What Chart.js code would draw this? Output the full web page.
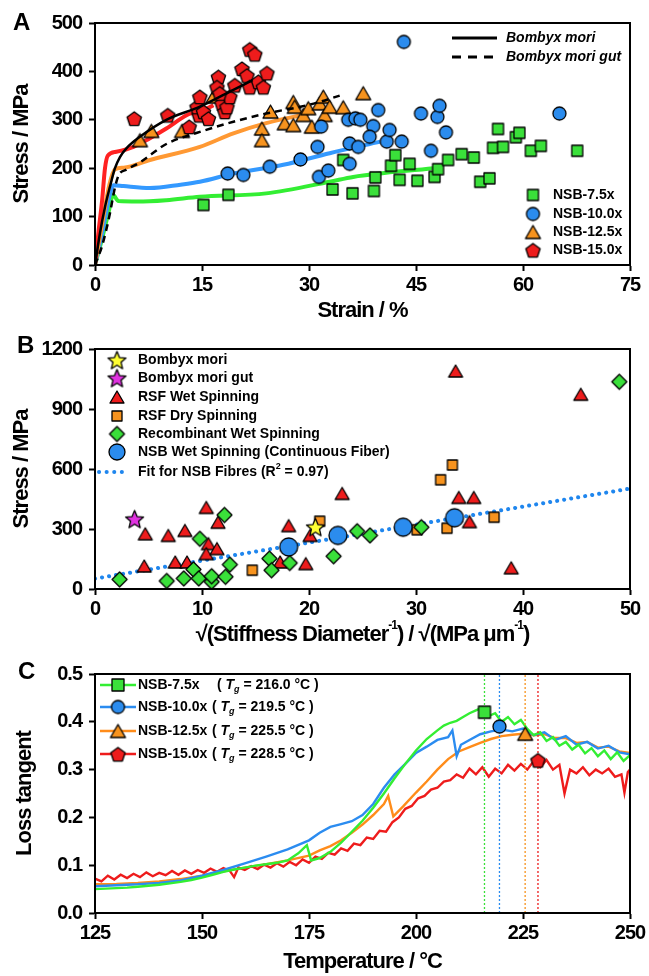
<!DOCTYPE html>
<html lang="en">
<head>
<meta charset="UTF-8" />
<title>NSB fibre mechanics</title>
<script src="https://cdn.jsdelivr.net/npm/chart.js"></script>
<style>
  body { margin: 0; background: #fff; width: 649px; height: 976px; position: relative; overflow: hidden; }
  .panel { position: absolute; left: 0; width: 649px; }
</style>
</head>
<body>
<div class="panel" style="top:0;height:330px"><canvas id="chartA"></canvas></div>
<div class="panel" style="top:330px;height:325px"><canvas id="chartB"></canvas></div>
<div class="panel" style="top:655px;height:321px"><canvas id="chartC"></canvas></div>
<script>
// ---- panel A : stress-strain ----
const bmStrain = [0, 0.7, 1.4, 2.1, 2.8, 3.5, 4.4, 6.3, 10, 14.7, 19.4, 22.1];
const bmStress = [0, 66, 120, 162, 200, 223, 241, 265, 300, 327, 362, 382];
const gutStrain = [0, 1, 2, 2.8, 3.3, 4.4, 6.3, 10, 14.7, 19.4, 24, 28.8, 31.5, 34.3];
const gutStress = [0, 40, 100, 160, 185, 197, 212, 250, 275, 296, 313, 327, 337, 350];
const curve15Strain = [0, 0.5, 1, 1.4, 1.8, 3, 5.4, 7.7, 10, 12.9, 15.8, 16.6];
const curve15Stress = [0, 70, 134, 200, 226, 234, 244, 262, 282, 310, 324, 330];
const curve125Strain = [0, 1, 2, 2.8, 4, 7.7, 14.7, 19.4, 24, 27.8, 30];
const curve125Stress = [0, 85, 165, 198, 201, 217, 244, 272, 293, 306, 312];
const curve10Strain = [0, 1, 2, 2.6, 4, 7.7, 12, 14.7, 19.4, 26.4, 32.9, 40];
const curve10Stress = [0, 65, 140, 165, 163, 159, 166, 172, 189, 207, 231, 255];
const curve75Strain = [0, 1, 2, 2.5, 3.3, 6, 10, 14.7, 24, 32.9, 36.2, 47.4];
const curve75Stress = [0, 55, 115, 145, 132, 131, 134, 141, 148, 172, 182, 200];

const nsb15Strain = [5.5, 10.2, 13.2, 14.6, 14.3, 14.7, 15.2, 15.9, 17.3, 17.1, 17.8, 18.2, 18.5, 18.9, 19.6, 20.6, 21.3, 21.7, 22.4, 21.7, 22.9, 23.6, 24.1, 17.5];
const nsb15Stress = [303, 310, 286, 310, 327, 348, 317, 303, 389, 368, 334, 317, 327, 348, 372, 406, 392, 446, 436, 368, 379, 368, 397, 355];
const nsb125Strain = [6.3, 7.9, 12.2, 16.6, 23.4, 23.4, 24.6, 26.6, 27.8, 27.8, 28.0, 29.2, 29.9, 30.4, 31.5, 32.0, 32.2, 32.9, 34.8, 37.6];
const nsb125Stress = [258, 277, 277, 348, 282, 258, 317, 293, 289, 337, 327, 310, 324, 286, 334, 348, 310, 327, 326, 355];
const nsb10Strain = [18.6, 20.8, 24.5, 28.8, 31.2, 31.4, 31.7, 32.7, 35.5, 36.5, 37.2, 35.7, 36.9, 35.7, 39.0, 39.7, 38.5, 40.9, 41.3, 43.0, 43.3, 45.7, 47.1, 48.0, 48.3, 49.2, 65.1];
const nsb10Stress = [189, 186, 203, 218, 244, 182, 286, 195, 300, 303, 300, 251, 244, 209, 287, 320, 265, 255, 279, 255, 461, 313, 236, 306, 329, 274, 313];
const nsb75Strain = [15.2, 18.7, 34.8, 33.3, 36.1, 39.1, 39.3, 41.5, 42.1, 42.7, 44.1, 45.2, 47.6, 48.1, 49.5, 51.4, 53.1, 54.0, 55.3, 55.8, 56.5, 57.2, 59.0, 59.5, 61.1, 62.5, 67.6];
const nsb75Stress = [124, 145, 217, 156, 148, 153, 181, 205, 227, 176, 209, 174, 182, 198, 217, 229, 222, 172, 179, 242, 281, 244, 264, 273, 236, 246, 236];

const lineNamesA = ['Bombyx mori', 'Bombyx mori gut'];
const namesA = ['NSB-7.5x', 'NSB-10.0x', 'NSB-12.5x', 'NSB-15.0x'];

// ---- panel B : stress vs sqrt(stiffness / diameter) ----
const bombyxX = [20.6], bombyxY = [310];
const gutX = [3.7], gutY = [350];
const rsfWetX = [4.7, 4.6, 6.85, 7.5, 8.4, 8.6, 10.4, 10.6, 10.4, 11.5, 11.4, 17.3, 18.1, 19.7, 20.1, 23.1, 33.7, 34.0, 35.4, 35.0, 38.9, 45.4];
const rsfWetY = [276, 115, 268, 135, 293, 135, 408, 227, 177, 334, 202, 135, 317, 127, 268, 478, 1090, 458, 458, 337, 106, 974];
const rsfDryX = [14.7, 21.0, 33.4, 32.3, 30.1, 32.9, 37.3];
const rsfDryY = [94, 339, 620, 546, 296, 304, 359];
const recombX = [2.3, 6.7, 8.3, 9.2, 9.7, 9.8, 10.9, 10.9, 12.2, 12.6, 12.1, 16.3, 16.5, 18.2, 22.3, 24.5, 25.7, 30.5, 49.0];
const recombY = [48, 40, 53, 98, 53, 251, 36, 64, 61, 122, 370, 152, 94, 130, 164, 289, 268, 309, 1036];
const nsbWetX = [18.1, 22.7, 28.8, 33.6];
const nsbWetY = [210, 268, 309, 356];
const fitX = [0, 50];
const fitY = [52, 502];
const namesB = ['Bombyx mori', 'Bombyx mori gut', 'RSF Wet Spinning', 'RSF Dry Spinning',
  'Recombinant Wet Spinning', 'NSB Wet Spinning (Continuous Fiber)'];

// ---- panel C : loss tangent ----
const greenT = [125, 127.5, 130, 132.5, 135, 137.5, 140, 142.5, 145, 147.5,
  150, 152.5, 155, 157.5, 160, 162.5, 165, 167.5, 170, 172.5,
  174.5, 175.5, 177.5, 180, 182.5, 185, 187.5, 190, 192.5, 195,
  197.5, 200, 202.5, 205, 206.5, 208, 209.5, 211, 212.5, 214,
  215.5, 217, 218.5, 220, 221.5, 223, 224.5, 226, 227.5, 229,
  230.5, 232, 233.5, 235, 236.5, 238, 239.5, 241, 242.5, 244,
  245.5, 247, 248.5, 250];
const greenLoss = [0.050, 0.051, 0.052, 0.053, 0.055, 0.057, 0.059, 0.062, 0.065, 0.069,
  0.074, 0.080, 0.086, 0.091, 0.095, 0.099, 0.102, 0.105, 0.110, 0.125,
  0.142, 0.110, 0.115, 0.128, 0.147, 0.170, 0.193, 0.220, 0.250, 0.282,
  0.312, 0.340, 0.364, 0.382, 0.392, 0.398, 0.402, 0.410, 0.418, 0.424,
  0.430, 0.412, 0.418, 0.400, 0.410, 0.395, 0.404, 0.385, 0.372, 0.378,
  0.360, 0.368, 0.350, 0.358, 0.342, 0.352, 0.334, 0.345, 0.328, 0.340,
  0.322, 0.336, 0.318, 0.330];
const blueT = [125, 130, 135, 140, 145, 150, 155, 160, 165, 170,
  175, 177.5, 180, 182.5, 185, 187.5, 190, 192.5, 195, 197.5,
  200, 202.5, 205, 207.5, 208.5, 209.5, 210.5, 212.5, 215, 217.5,
  220, 222.5, 225, 227.5, 230, 232.5, 235, 237.5, 240, 242.5,
  245, 247.5, 250];
const blueLoss = [0.056, 0.058, 0.060, 0.063, 0.068, 0.078, 0.090, 0.104, 0.118, 0.133,
  0.152, 0.168, 0.180, 0.186, 0.192, 0.205, 0.228, 0.262, 0.290, 0.312,
  0.335, 0.348, 0.362, 0.368, 0.382, 0.328, 0.352, 0.362, 0.374, 0.380,
  0.384, 0.380, 0.386, 0.372, 0.378, 0.362, 0.370, 0.352, 0.358, 0.344,
  0.350, 0.336, 0.332];
const orangeT = [125, 130, 135, 140, 145, 150, 155, 160, 165, 170,
  175, 177.5, 180, 182.5, 185, 187.5, 190, 192.5, 193.5, 194.7,
  197, 200, 202.5, 205, 207.5, 210, 212.5, 215, 217.5, 220,
  222.5, 225, 227.5, 230, 232.5, 235, 237.5, 240, 242.5, 245,
  247.5, 250];
const orangeLoss = [0.060, 0.061, 0.063, 0.066, 0.071, 0.078, 0.087, 0.095, 0.102, 0.110,
  0.120, 0.131, 0.140, 0.152, 0.168, 0.185, 0.205, 0.228, 0.245, 0.202,
  0.223, 0.252, 0.275, 0.300, 0.322, 0.338, 0.347, 0.356, 0.364, 0.370,
  0.373, 0.375, 0.372, 0.374, 0.366, 0.366, 0.356, 0.358, 0.346, 0.348,
  0.338, 0.335];
const redT = [125, 126.5, 128, 129.5, 131, 132.5, 134, 135.5, 137, 138.5,
  140, 141.5, 143, 144.5, 146, 147.5, 149, 150.5, 152, 153.5,
  155, 156.5, 157.5, 158.5, 160, 161.5, 163, 164.5, 166, 167.5,
  169, 170.5, 172, 173.5, 175, 176.5, 178, 179.5, 181, 182.5,
  184, 185.5, 187, 188.5, 190, 191.5, 193, 194.5, 196, 197.5,
  199, 200.5, 202, 203.5, 205, 206.5, 208, 209.5, 211, 212.5,
  214, 215.5, 217, 218.5, 220, 221.5, 223, 224.5, 226, 227.5,
  229, 230.5, 232, 233.5, 234.7, 236, 237.5, 239, 240.5, 242,
  243.5, 245, 246.5, 248, 248.7, 249.5, 250];
const redLoss = [0.072, 0.066, 0.078, 0.070, 0.080, 0.073, 0.082, 0.075, 0.085, 0.077,
  0.084, 0.079, 0.088, 0.080, 0.089, 0.082, 0.090, 0.084, 0.093, 0.086,
  0.094, 0.088, 0.075, 0.095, 0.090, 0.098, 0.092, 0.101, 0.095, 0.104,
  0.097, 0.107, 0.100, 0.112, 0.105, 0.118, 0.113, 0.126, 0.122, 0.135,
  0.130, 0.145, 0.142, 0.158, 0.155, 0.172, 0.170, 0.190, 0.200, 0.218,
  0.224, 0.240, 0.245, 0.258, 0.262, 0.275, 0.278, 0.290, 0.283, 0.302,
  0.290, 0.305, 0.285, 0.302, 0.292, 0.310, 0.298, 0.312, 0.300, 0.318,
  0.305, 0.320, 0.300, 0.310, 0.250, 0.300, 0.292, 0.305, 0.288, 0.300,
  0.292, 0.302, 0.285, 0.290, 0.252, 0.295, 0.300];
const tgTemps = [216.0, 219.5, 225.5, 228.5];
const tgLoss = [0.42, 0.39, 0.375, 0.32];
const tgText = ['216.0', '219.5', '225.5', '228.5'];

// ---- styling ----
const FONT = "'Liberation Sans', Arial, sans-serif";
const GREEN = '#3ae03a', BLUE = '#2b8cee', ORANGE = '#f7931e', RED = '#ee1c1c';

Chart.defaults.font.family = FONT;
Chart.defaults.color = '#000';

const pts = (xs, ys) => xs.map((x, i) => ({x, y: ys[i]}));

function marker(shape, w, fill, h) {
    h = h || w;
    const c = document.createElement('canvas');
    c.width = Math.ceil(w + 4);
    c.height = Math.ceil(h + 4);
    const g = c.getContext('2d');
    const cx = c.width / 2, cy = c.height / 2, r = w / 2;
    g.beginPath();
    if (shape === 'circle') {
        g.arc(cx, cy, r, 0, Math.PI * 2);
    } else if (shape === 'square') {
        g.rect(cx - r, cy - h / 2, w, h);
    } else if (shape === 'triangle') {
        g.moveTo(cx, cy - h / 2); g.lineTo(cx + r, cy + h / 2); g.lineTo(cx - r, cy + h / 2); g.closePath();
    } else if (shape === 'diamond') {
        g.moveTo(cx, cy - h / 2); g.lineTo(cx + r, cy); g.lineTo(cx, cy + h / 2); g.lineTo(cx - r, cy); g.closePath();
    } else {
        const n = shape === 'star' ? 10 : 5;
        for (let i = 0; i < n; i++) {
            const ang = -Math.PI / 2 + i * 2 * Math.PI / n;
            const rr = (shape === 'star' && i % 2) ? r * 0.45 : r;
            const px = cx + rr * Math.cos(ang), py = cy + 1 + rr * Math.sin(ang);
            i ? g.lineTo(px, py) : g.moveTo(px, py);
        }
        g.closePath();
    }
    g.fillStyle = fill;
    g.fill();
    g.lineWidth = 1.3;
    g.lineJoin = 'round';
    g.strokeStyle = '#000';
    g.stroke();
    return c;
}

function xAxis(min, max, step, title, boxH, padBottom) {
    return {
        type: 'linear', position: 'bottom', min, max,
        ticks: {stepSize: step, font: {size: 20, weight: 'bold'}, color: '#000', padding: 2,
            maxRotation: 0, autoSkip: false, callback: v => String(v)},
        grid: {drawOnChartArea: false, drawTicks: true, tickLength: 6, tickWidth: 2, tickColor: '#000'},
        border: {display: true, color: '#000', width: 2},
        title: {display: !!title, text: title, color: '#000', font: {size: 22, weight: 'bold'},
            padding: {top: 0, bottom: padBottom}},
        afterFit(s) { s.height = boxH; }
    };
}

function yAxis(min, max, step, title, fmt, padTop) {
    return {
        type: 'linear', position: 'left', min, max,
        ticks: {stepSize: step, font: {size: 20, weight: 'bold'}, color: '#000', padding: 7, callback: fmt},
        grid: {drawOnChartArea: false, drawTicks: true, tickLength: 6, tickWidth: 2, tickColor: '#000'},
        border: {display: true, color: '#000', width: 2},
        title: {display: true, text: title, color: '#000', font: {size: 22, weight: 'bold'},
            padding: {top: padTop, bottom: 0}},
        afterFit(s) { s.width = 95; }
    };
}

function baseOptions(top, scales) {
    return {
        responsive: true, maintainAspectRatio: false, animation: false, devicePixelRatio: 1, events: [],
        layout: {padding: {left: 0, right: 19, top, bottom: 0}},
        scales,
        plugins: {legend: {display: false}, tooltip: {enabled: false}}
    };
}

// the axis lettering of the figure is condensed, tighten it a bit
const tightText = {
    id: 'tightText',
    beforeDraw(chart) { chart.ctx.letterSpacing = '-1px'; }
};

function drawFrame(chart, letter, lx, ly) {
    const {ctx, chartArea: a} = chart;
    ctx.save();
    ctx.strokeStyle = '#000';
    ctx.lineWidth = 2;
    ctx.strokeRect(a.left, a.top, a.right - a.left, a.bottom - a.top);
    ctx.fillStyle = '#000';
    ctx.font = 'bold 24px ' + FONT;
    ctx.textBaseline = 'alphabetic';
    ctx.fillText(letter, lx, ly);
    ctx.restore();
}

// parts: [text, font, dy]
function richText(ctx, x, y, parts, center) {
    let w = 0;
    parts.forEach(p => { ctx.font = p[1]; w += ctx.measureText(p[0]).width; });
    let cx = center ? x - w / 2 : x;
    parts.forEach(p => {
        ctx.font = p[1];
        ctx.fillText(p[0], cx, y + (p[2] || 0));
        cx += ctx.measureText(p[0]).width;
    });
}

function markerLegend(ctx, imgs, names, mx, tx, rows) {
    ctx.font = 'bold 14px ' + FONT;
    ctx.fillStyle = '#000';
    ctx.textBaseline = 'middle';
    imgs.forEach((img, i) => {
        if (img) ctx.drawImage(img, mx - img.width / 2, rows[i] - img.height / 2);
        if (names[i]) ctx.fillText(names[i], tx, rows[i]);
    });
}

// ---- panel A ----
const mA = {
    sq: marker('square', 11, GREEN),
    ci: marker('circle', 13, BLUE),
    tr: marker('triangle', 15, ORANGE, 13),
    pe: marker('pentagon', 15, RED)
};
const lineDs = (data, color, width, order, dash) => ({
    data, showLine: true, borderColor: color, borderWidth: width, pointRadius: 0,
    borderDash: dash || [], cubicInterpolationMode: 'monotone', order, fill: false
});
const scatterDs = (data, img, order) => ({
    data, pointStyle: img, pointRadius: 6, showLine: false, order
});

new Chart(document.getElementById('chartA'), {
    type: 'scatter',
    data: {
        datasets: [
            lineDs(pts(bmStrain, bmStress), '#000', 2.5, 0),
            lineDs(pts(gutStrain, gutStress), '#000', 2.5, 0, [7, 5]),
            scatterDs(pts(nsb15Strain, nsb15Stress), mA.pe, 1),
            scatterDs(pts(nsb10Strain, nsb10Stress), mA.ci, 2),
            scatterDs(pts(nsb125Strain, nsb125Stress), mA.tr, 3),
            scatterDs(pts(nsb75Strain, nsb75Stress), mA.sq, 4),
            lineDs(pts(curve15Strain, curve15Stress), '#ff2222', 4, 5),
            lineDs(pts(curve125Strain, curve125Stress), '#ff9933', 4, 5),
            lineDs(pts(curve10Strain, curve10Stress), '#3399ff', 4, 5),
            lineDs(pts(curve75Strain, curve75Stress), '#33ee33', 4, 5)
        ]
    },
    options: baseOptions(23, {
        x: xAxis(0, 75, 15, 'Strain / %', 65, 6),
        y: yAxis(0, 500, 100, 'Stress / MPa', v => String(v), 9)
    }),
    plugins: [tightText, {
        id: 'decorA',
        afterDraw(chart) {
            const ctx = chart.ctx;
            ctx.save();
            ctx.letterSpacing = '0px';
            drawFrame(chart, 'A', 13, 30);
            ctx.strokeStyle = '#000';
            ctx.lineWidth = 3;
            ctx.beginPath(); ctx.moveTo(452, 38); ctx.lineTo(497, 38); ctx.stroke();
            ctx.setLineDash([9, 7]);
            ctx.beginPath(); ctx.moveTo(452, 57); ctx.lineTo(497, 57); ctx.stroke();
            ctx.setLineDash([]);
            ctx.font = 'italic bold 14px ' + FONT;
            ctx.fillStyle = '#000';
            ctx.textBaseline = 'middle';
            ctx.fillText(lineNamesA[0], 506, 38);
            ctx.fillText(lineNamesA[1], 506, 57);
            markerLegend(ctx, [mA.sq, mA.ci, mA.tr, mA.pe], namesA, 533, 553, [195, 214, 232, 250]);
            ctx.restore();
        }
    }]
});

// ---- panel B ----
const mB = {
    yellow: marker('star', 19, '#ffff33'),
    magenta: marker('star', 19, '#e033e0'),
    tri: marker('triangle', 14, RED, 12),
    sq: marker('square', 10, ORANGE),
    dia: marker('diamond', 15, GREEN),
    ci: marker('circle', 18, BLUE)
};
const mBLegend = [mB.yellow, mB.magenta, mB.tri, mB.sq, mB.dia, marker('circle', 16, BLUE)];

new Chart(document.getElementById('chartB'), {
    type: 'scatter',
    data: {
        datasets: [
            scatterDs(pts(bombyxX, bombyxY), mB.yellow, 0),
            scatterDs(pts(gutX, gutY), mB.magenta, 0),
            scatterDs(pts(nsbWetX, nsbWetY), mB.ci, 1),
            scatterDs(pts(recombX, recombY), mB.dia, 2),
            scatterDs(pts(rsfDryX, rsfDryY), mB.sq, 3),
            scatterDs(pts(rsfWetX, rsfWetY), mB.tri, 4),
            {data: pts(fitX, fitY), showLine: true, borderColor: '#1f86ee', borderWidth: 4,
                borderDash: [0.1, 7], borderCapStyle: 'round', pointRadius: 0, order: 5}
        ]
    },
    options: baseOptions(17, {
        x: xAxis(0, 50, 10, '', 66, 0),
        y: yAxis(0, 1200, 300, 'Stress / MPa', v => String(v), 9)
    }),
    plugins: [tightText, {
        id: 'decorB',
        afterDraw(chart) {
            const ctx = chart.ctx;
            const a = chart.chartArea;
            ctx.save();
            drawFrame(chart, 'B', 17, 23);
            ctx.fillStyle = '#000';
            ctx.textBaseline = 'middle';
            const F = 'bold 22px ' + FONT, S = 'bold 12px ' + FONT;
            richText(ctx, (a.left + a.right) / 2, a.bottom + 46, [
                ['√(Stiffness Diameter', F], ['-1', S, -9], [') / √(MPa μm', F], ['-1', S, -9], [')', F]
            ], true);
            ctx.letterSpacing = '0px';
            const rows = [30, 48, 67, 86, 104, 122, 142];
            markerLegend(ctx, mBLegend, namesB, 117, 138, rows);
            ctx.strokeStyle = '#1f86ee';
            ctx.lineWidth = 4;
            ctx.lineCap = 'round';
            ctx.setLineDash([0.1, 7.5]);
            ctx.beginPath(); ctx.moveTo(99, rows[6]); ctx.lineTo(129, rows[6]); ctx.stroke();
            ctx.setLineDash([]);
            const L = 'bold 14px ' + FONT, L2 = 'bold 9px ' + FONT;
            richText(ctx, 138, rows[6], [['Fit for NSB Fibres (R', L], ['2', L2, -5], [' = 0.97)', L]], false);
            ctx.restore();
        }
    }]
});

// ---- panel C ----
const cColors = [GREEN, BLUE, ORANGE, RED];
const cLines = ['#33ee33', '#2b8cf0', '#ff8c1a', '#ee1c1c'];
const mC = [
    marker('square', 12, GREEN),
    marker('circle', 13, BLUE),
    marker('triangle', 15, ORANGE, 13),
    marker('pentagon', 15, RED)
];
const noisy = (data, color, order) => ({
    data, showLine: true, borderColor: color, borderWidth: 2.4, pointRadius: 0, tension: 0, order, fill: false
});
const tgLine = (i) => ({
    data: [{x: tgTemps[i], y: 0}, {x: tgTemps[i], y: 0.5}], showLine: true, borderColor: cColors[i],
    borderWidth: 1.3, borderDash: [2, 2], pointRadius: 0, order: 1
});

new Chart(document.getElementById('chartC'), {
    type: 'scatter',
    data: {
        datasets: [
            ...tgTemps.map((t, i) => scatterDs([{x: t, y: tgLoss[i]}], mC[i], 0)),
            tgLine(0), tgLine(1), tgLine(2), tgLine(3),
            noisy(pts(greenT, greenLoss), cLines[0], 2),
            noisy(pts(blueT, blueLoss), cLines[1], 3),
            noisy(pts(redT, redLoss), cLines[3], 4),
            noisy(pts(orangeT, orangeLoss), cLines[2], 5)
        ]
    },
    options: baseOptions(16, {
        x: xAxis(125, 250, 25, 'Temperature / °C', 63, 1),
        y: yAxis(0, 0.5, 0.1, 'Loss tangent', v => v.toFixed(1), 12)
    }),
    plugins: [tightText, {
        id: 'decorC',
        afterDraw(chart) {
            const ctx = chart.ctx;
            ctx.save();
            ctx.letterSpacing = '0px';
            drawFrame(chart, 'C', 18, 24);
            ctx.fillStyle = '#000';
            ctx.textBaseline = 'middle';
            const rows = [30, 52, 76, 99];
            const L = 'bold 14px ' + FONT, I = 'italic bold 14px ' + FONT, G = 'italic bold 9px ' + FONT;
            rows.forEach((y, i) => {
                ctx.strokeStyle = cLines[i];
                ctx.lineWidth = 2.4;
                ctx.beginPath(); ctx.moveTo(100, y); ctx.lineTo(136, y); ctx.stroke();
                ctx.drawImage(mC[i], 118 - mC[i].width / 2, y - mC[i].height / 2);
                ctx.font = L;
                ctx.fillText(namesA[i], 138, y);
                richText(ctx, i === 0 ? 217 : 212, y, [
                    ['( ', L], ['T', I], ['g', G, 5], [' = ' + tgText[i] + ' °C )', L]
                ], false);
            });
            ctx.restore();
        }
    }]
});
</script>
</body>
</html>
